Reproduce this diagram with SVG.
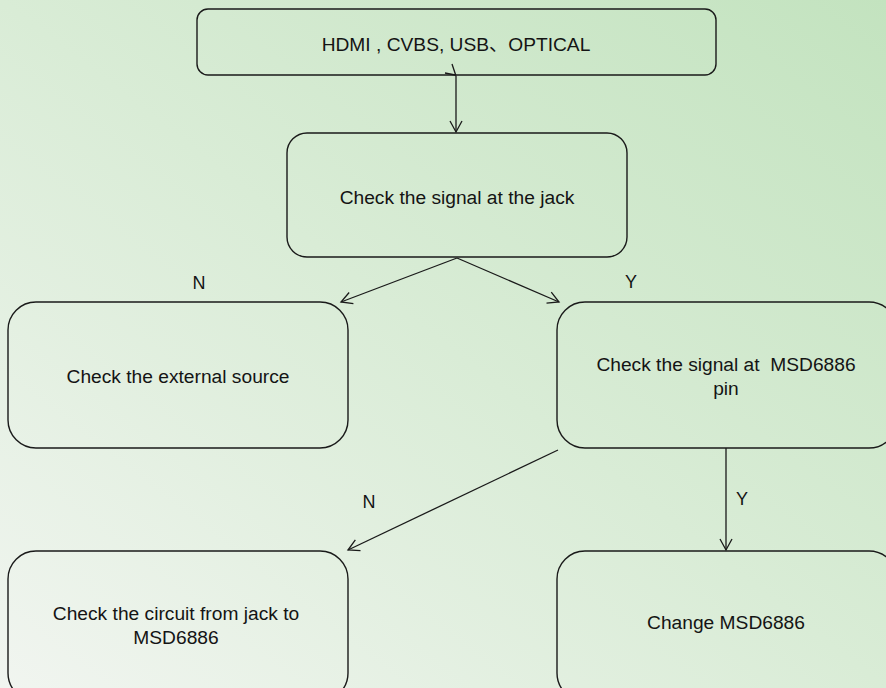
<svg xmlns="http://www.w3.org/2000/svg" width="886" height="688" viewBox="0 0 886 688">
<defs>
<linearGradient id="bg" x1="0" y1="1" x2="1" y2="0">
<stop offset="0" stop-color="#f1f5f0"/>
<stop offset="0.5" stop-color="#d9ecd6"/>
<stop offset="1" stop-color="#c3e3bf"/>
</linearGradient>
<marker id="arr" markerWidth="14" markerHeight="14" refX="12" refY="7" orient="auto" markerUnits="userSpaceOnUse">
<path d="M1,1 L12,7 L1,13" fill="none" stroke="#1a1a1a" stroke-width="1.3"/>
</marker>
<style>
.box{fill:none;stroke:#1a1a1a;stroke-width:1.4}
.t{font-family:"Liberation Sans",Arial,"Noto Sans CJK SC",sans-serif;font-size:19.2px;fill:#141414;text-anchor:middle;white-space:pre}
.lbl{font-family:"Liberation Sans",Arial,sans-serif;font-size:18px;fill:#141414;text-anchor:middle}
.c{fill:none;stroke:#1a1a1a;stroke-width:1.3}
</style>
</defs>
<rect width="886" height="688" fill="url(#bg)"/>
<g id="connectors">
<line class="c" x1="456" y1="76" x2="456" y2="132" marker-end="url(#arr)"/>
<path class="c" d="M452,64 L456,76 M445,73 L455,75"/>
<line class="c" x1="457" y1="258" x2="341" y2="302" marker-end="url(#arr)"/>
<line class="c" x1="457" y1="258" x2="559" y2="302" marker-end="url(#arr)"/>
<line class="c" x1="558" y1="450" x2="348" y2="550" marker-end="url(#arr)"/>
<line class="c" x1="726" y1="448" x2="726" y2="550" marker-end="url(#arr)"/>
<text class="lbl" x="199" y="289">N</text>
<text class="lbl" x="631" y="288">Y</text>
<text class="lbl" x="369" y="508">N</text>
<text class="lbl" x="742" y="505">Y</text>
</g>
<g id="n1">
<rect class="box" x="197" y="9" width="519" height="66" rx="11"/>
<text class="t" x="456" y="51">HDMI , CVBS, USB、OPTICAL</text>
</g>
<g id="n2">
<rect class="box" x="287" y="133" width="340" height="124" rx="20"/>
<text class="t" x="457" y="204">Check the signal at the jack</text>
</g>
<g id="n3">
<rect class="box" x="8" y="302" width="340" height="146" rx="28"/>
<text class="t" x="178" y="383">Check the external source</text>
</g>
<g id="n4">
<rect class="box" x="557" y="302" width="340" height="146" rx="28"/>
<text class="t" x="726" y="371">Check the signal at  MSD6886</text>
<text class="t" x="726" y="395">pin</text>
</g>
<g id="n5">
<rect class="box" x="8" y="551" width="340" height="150" rx="28"/>
<text class="t" x="176" y="620">Check the circuit from jack to</text>
<text class="t" x="176" y="644">MSD6886</text>
</g>
<g id="n6">
<rect class="box" x="557" y="551" width="340" height="150" rx="28"/>
<text class="t" x="726" y="629">Change MSD6886</text>
</g>
</svg>
